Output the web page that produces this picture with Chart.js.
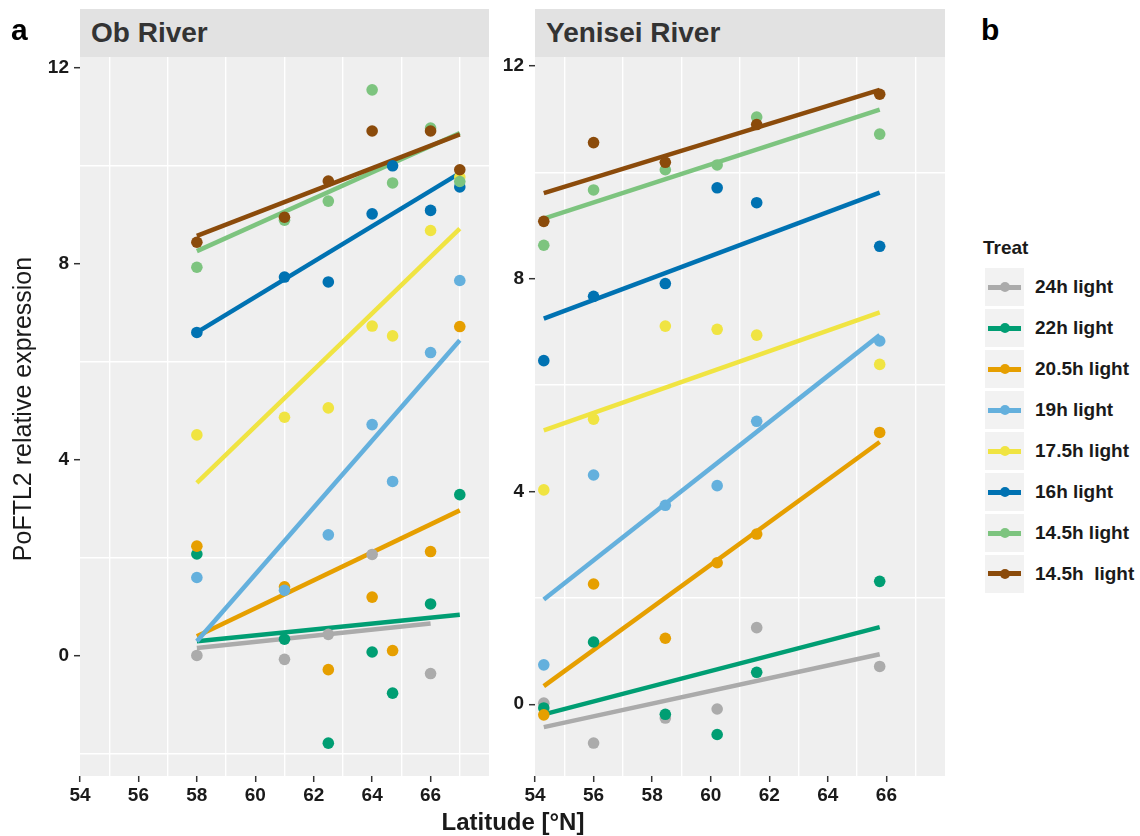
<!DOCTYPE html>
<html>
<head>
<meta charset="utf-8">
<script src="https://cdn.jsdelivr.net/npm/chart.js@4.4.0/dist/chart.umd.min.js"></script>
<style>
  body { margin: 0; width: 1140px; height: 836px; background: #fff; position: relative; overflow: hidden;
         font-family: "Liberation Sans", Arial, sans-serif; color: #1a1a1a; }
  .abs { position: absolute; }
  canvas { position: absolute; top: 0; }
  .strip { top: 9px; height: 48px; line-height: 48px; background: #E2E2E2; font-weight: bold; font-size: 28px;
           color: #333; padding-left: 11px; box-sizing: border-box; white-space: nowrap; }
  .panel-letter { font-size: 30px; line-height: 30px; font-weight: bold; color: #000; }
  .key { left: 985px; width: 39px; height: 38px; background: #F2F2F2; }
  .key .ln { position: absolute; left: 3px; right: 3px; top: 16.5px; height: 5px; }
  .key .dot { position: absolute; left: 14.5px; top: 14px; width: 10px; height: 10px; border-radius: 50%; }
  .klabel { left: 1035px; height: 38px; line-height: 38px; font-size: 19px; font-weight: bold; white-space: pre; }
</style>
</head>
<body>
<canvas id="ob" width="500" height="836" style="left:0"></canvas>
<canvas id="yenisei" width="520" height="836" style="left:440px"></canvas>

<div class="abs panel-letter" style="left:11px; top:15px">a</div>
<div class="abs panel-letter" style="left:981px; top:15px">b</div>
<div class="abs strip" style="left:80px; width:409px">Ob River</div>
<div class="abs strip" style="left:535px; width:410px">Yenisei River</div>
<div class="abs" id="ytitle" style="left:22px; top:409px; font-size:25px; line-height:25px; white-space:nowrap; transform: translate(-50%, -50%) rotate(-90deg);">PoFTL2 relative expression</div>
<div class="abs" style="left:413px; width:200px; text-align:center; top:810px; font-size:24px; line-height:24px; font-weight:bold; white-space:nowrap">Latitude [°N]</div>
<div class="abs" style="left:983px; top:238px; font-size:19px; line-height:19px; font-weight:bold">Treat</div>
<div id="legend"></div>

<script>
const treatments = ["24h light", "22h light", "20.5h light", "19h light", "17.5h light", "16h light", "14.5h light", "14.5h  light"];
const colours = ["#ABABAB", "#009E73", "#E69F00", "#64B0DD", "#F0E442", "#0072B2", "#7DC47F", "#8B4B0B"];

// Ob River
const obLatitude = [58, 61, 62.5, 64, 64.7, 66, 67];
const ob24h = [0.00, -0.08, 0.43, 2.06, null, -0.37, null];
const ob22h = [2.07, 0.33, -1.79, 0.07, -0.77, 1.05, 3.28];
const ob205h = [2.23, 1.40, -0.29, 1.19, 0.10, 2.12, 6.71];
const ob19h = [1.59, 1.33, 2.46, 4.71, 3.55, 6.18, 7.65];
const ob175h = [4.50, 4.86, 5.05, 6.72, 6.52, 8.67, 9.76];
const ob16h = [6.59, 7.72, 7.62, 9.01, 9.99, 9.08, 9.56];
const ob145h = [7.92, 8.88, 9.27, 11.54, 9.64, 10.76, 9.67];
const ob145hB = [8.43, 8.94, 9.68, 10.70, null, 10.70, 9.91];
const obFitFrom = [58, 58, 58, 58, 58, 58, 58, 58];
const obFitTo = [66, 67, 67, 67, 67, 67, 67, 67];
const obFitStart = [0.15, 0.29, 0.39, 0.29, 3.52, 6.59, 8.25, 8.56];
const obFitEnd = [0.65, 0.83, 2.96, 6.43, 8.71, 9.84, 10.66, 10.63];

// Yenisei River
const yeLatitude = [54.3, 56, 58.45, 60.22, 61.57, 65.77];
const ye24h = [0.02, -0.73, -0.26, -0.09, 1.44, 0.71];
const ye22h = [-0.07, 1.17, -0.19, -0.57, 0.60, 2.31];
const ye205h = [-0.20, 2.26, 1.24, 2.66, 3.20, 5.11];
const ye19h = [0.74, 4.31, 3.74, 4.11, 5.32, 6.83];
const ye175h = [4.03, 5.36, 7.11, 7.05, 6.94, 6.39];
const ye16h = [6.46, 7.67, 7.91, 9.71, 9.43, 8.61];
const ye145h = [8.63, 9.67, 10.05, 10.14, 11.04, 10.72];
const ye145hB = [9.08, 10.56, 10.19, null, 10.90, 11.47];
const yeFitFrom = [54.3, 54.3, 54.3, 54.3, 54.3, 54.3, 54.3, 54.3];
const yeFitTo = [65.77, 65.77, 65.77, 65.77, 65.77, 65.77, 65.77, 65.77];
const yeFitStart = [-0.43, -0.19, 0.34, 1.97, 5.15, 7.25, 9.13, 9.61];
const yeFitEnd = [0.94, 1.45, 4.93, 6.94, 7.37, 9.62, 11.18, 11.55];

const latitudeTicks = [54, 56, 58, 60, 62, 64, 66];
const expressionTicks = [0, 4, 8, 12];

const tickFont = { family: "Liberation Sans", size: 19, weight: "bold" };

const panelBg = {
  id: "panelBg",
  beforeDraw(chart) {
    const { ctx, chartArea: a } = chart;
    ctx.save();
    ctx.fillStyle = "#EFEFEF";
    ctx.fillRect(a.left, a.top, a.right - a.left, a.bottom - a.top);
    ctx.restore();
  },
};

function buildDatasets(latitude, values, fitFrom, fitTo, fitStart, fitEnd) {
  const sets = [];
  treatments.forEach((name, i) => {
    sets.push({
      label: name + " fit",
      data: [{ x: fitFrom[i], y: fitStart[i] }, { x: fitTo[i], y: fitEnd[i] }],
      showLine: true,
      borderColor: colours[i],
      borderWidth: 4.5,
      pointRadius: 0,
      order: 20 - i,
    });
    const pts = [];
    latitude.forEach((lat, j) => {
      if (values[i][j] !== null) pts.push({ x: lat, y: values[i][j] });
    });
    sets.push({
      label: name,
      data: pts,
      showLine: false,
      backgroundColor: colours[i],
      borderColor: colours[i],
      pointRadius: 5.8,
      pointBorderWidth: 0,
      order: 10 - i,
    });
  });
  return sets;
}

function makeChart(id, datasets, yMin, yMax, yWidth, rightPad) {
  const ctx = document.getElementById(id).getContext("2d");
  return new Chart(ctx, {
    type: "scatter",
    data: { datasets: datasets },
    plugins: [panelBg],
    options: {
      responsive: false,
      animation: false,
      events: [],
      layout: { padding: { top: 57, right: rightPad, left: 0, bottom: 0 } },
      plugins: { legend: { display: false }, tooltip: { enabled: false } },
      scales: {
        x: {
          type: "linear",
          min: 54,
          max: 68,
          afterFit: (s) => { s.height = 60; },
          border: { display: false },
          ticks: {
            stepSize: 1,
            autoSkip: false,
            maxRotation: 0,
            padding: 2,
            font: tickFont,
            color: "#1a1a1a",
            callback: (v) => (latitudeTicks.includes(v) ? v : ""),
          },
          grid: {
            color: (c) => (c.tick && Math.abs(c.tick.value % 2) === 1 ? "#ffffff" : "rgba(0,0,0,0)"),
            lineWidth: 1.4,
            tickColor: (c) => (c.tick && latitudeTicks.includes(c.tick.value) ? "#333333" : "rgba(0,0,0,0)"),
            tickLength: 6,
            tickWidth: 1.5,
          },
        },
        y: {
          type: "linear",
          min: yMin,
          max: yMax,
          afterFit: (s) => { s.width = yWidth; },
          border: { display: false },
          ticks: {
            stepSize: 2,
            includeBounds: false,
            autoSkip: false,
            padding: 5,
            font: tickFont,
            color: "#1a1a1a",
            callback: (v) => (expressionTicks.includes(v) ? v : ""),
          },
          grid: {
            color: (c) => (c.tick && !expressionTicks.includes(c.tick.value) ? "#ffffff" : "rgba(0,0,0,0)"),
            lineWidth: 1.4,
            tickColor: (c) => (c.tick && expressionTicks.includes(c.tick.value) ? "#333333" : "rgba(0,0,0,0)"),
            tickLength: 6,
            tickWidth: 1.5,
          },
        },
      },
    },
  });
}

makeChart("ob",
  buildDatasets(obLatitude, [ob24h, ob22h, ob205h, ob19h, ob175h, ob16h, ob145h, ob145hB],
    obFitFrom, obFitTo, obFitStart, obFitEnd),
  -2.46, 12.21, 80, 11);

makeChart("yenisei",
  buildDatasets(yeLatitude, [ye24h, ye22h, ye205h, ye19h, ye175h, ye16h, ye145h, ye145hB],
    yeFitFrom, yeFitTo, yeFitStart, yeFitEnd),
  -1.35, 12.17, 95, 15);

// legend
const legend = document.getElementById("legend");
treatments.forEach((name, i) => {
  const top = 268.3 + i * 40.95;
  const key = document.createElement("div");
  key.className = "abs key";
  key.style.top = top + "px";
  key.innerHTML = '<div class="ln" style="background:' + colours[i] + '"></div><div class="dot" style="background:' + colours[i] + '"></div>';
  legend.appendChild(key);
  const lab = document.createElement("div");
  lab.className = "abs klabel";
  lab.style.top = top + "px";
  lab.textContent = name;
  legend.appendChild(lab);
});
</script>
</body>
</html>
